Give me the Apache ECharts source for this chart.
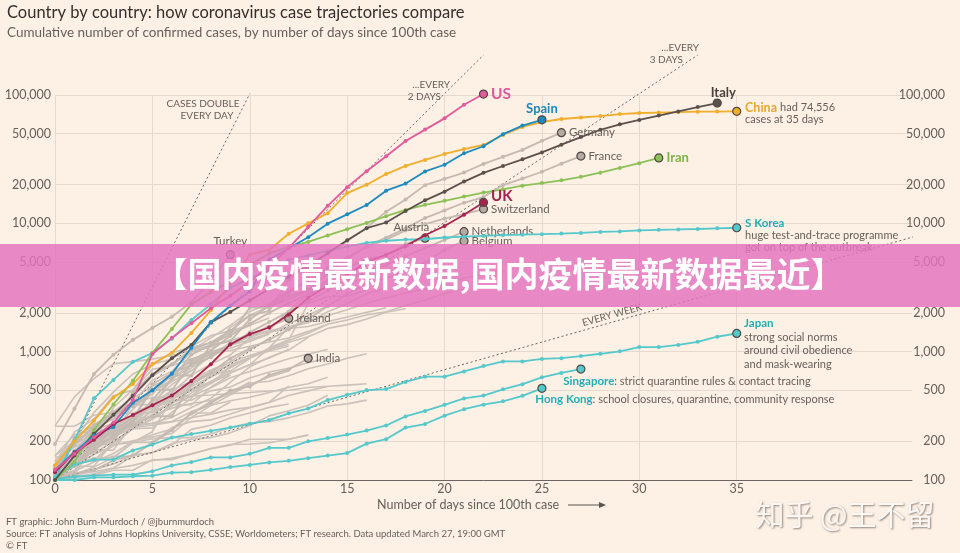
<!DOCTYPE html>
<html>
<head>
<meta charset="utf-8">
<title>Country by country: how coronavirus case trajectories compare</title>
<script src="https://cdn.jsdelivr.net/npm/echarts@6/dist/echarts.min.js"></script>
<style>
html, body { margin: 0; padding: 0; background: #fdf0e4; }
#viz { width: 960px; height: 553px; }
</style>
</head>
<body>
<div id="viz"></div>
<script>
var dayTicks = [0, 5, 10, 15, 20, 25, 30, 35];
var caseTicks = [100, 200, 500, 1000, 2000, 5000, 10000, 20000, 50000, 100000];

// cumulative cases, one value per day since the 100th case
var us = [120, 160, 215, 280, 420, 960, 1281, 1663, 2179, 2727, 3499, 4632, 6421, 9400, 13680, 19101, 25493, 33276, 43847, 53740, 65778, 83836, 101657];
var spain = [120, 165, 222, 259, 400, 500, 673, 1073, 1695, 2277, 2950, 5232, 6391, 7798, 9942, 11748, 13910, 17963, 20410, 25374, 28603, 35136, 39885, 49515, 57786, 64059];
var italy = [100, 155, 229, 322, 453, 655, 888, 1128, 1694, 2036, 2502, 3089, 3858, 4636, 5883, 7375, 9172, 10149, 12462, 15113, 17660, 21157, 24747, 27980, 31506, 35713, 41035, 47021, 53578, 59138, 63927, 69176, 74386, 80589, 86498];
var china = [130, 200, 290, 440, 560, 800, 980, 1400, 2100, 3400, 5700, 6200, 8300, 10000, 12000, 17200, 20000, 24200, 28000, 31200, 34700, 37900, 40800, 48800, 56400, 61600, 65000, 66800, 68500, 71000, 72400, 73000, 73600, 74100, 74300, 74556];
var iran = [100, 139, 245, 388, 593, 978, 1501, 2336, 2922, 3513, 4747, 5823, 6566, 7161, 8042, 9000, 10075, 11364, 12729, 13938, 14991, 16169, 17361, 18407, 19644, 20610, 21638, 23049, 24811, 27017, 29406, 32332];
var uk = [115, 163, 206, 273, 321, 382, 456, 590, 798, 1140, 1372, 1543, 1950, 2626, 3269, 3983, 5018, 5683, 6650, 8077, 9529, 11658, 14543];
var germany = [130, 159, 196, 262, 482, 670, 799, 1040, 1176, 1457, 1908, 2078, 3675, 4585, 5795, 7272, 9257, 12327, 15320, 19848, 22213, 24873, 29056, 32986, 37323, 43938, 50871];
var france = [100, 130, 191, 212, 285, 423, 613, 949, 1126, 1209, 1784, 2281, 2876, 3661, 4499, 5423, 6633, 7730, 9134, 10995, 12612, 14459, 16018, 19856, 22304, 25233, 29155, 33402];
var switzerland = [114, 214, 268, 337, 374, 491, 652, 652, 1139, 1359, 2200, 2200, 2700, 3028, 4075, 5294, 6575, 7474, 8795, 9877, 10897, 11811, 12928];
var austria = [104, 131, 182, 246, 302, 504, 655, 860, 1018, 1332, 1646, 2013, 2388, 2814, 3582, 4474, 5283, 5588, 6909, 7657];
var netherlands = [128, 188, 265, 321, 382, 503, 503, 804, 959, 1135, 1413, 1705, 2051, 2460, 2994, 3631, 4204, 4749, 5560, 6412, 7431, 8603];
var belgium = [109, 169, 200, 239, 267, 314, 314, 559, 689, 886, 1058, 1243, 1486, 1795, 2257, 2815, 3401, 3743, 4269, 4937, 6235, 7284];
var turkey = [191, 359, 670, 947, 1236, 1529, 1872, 2433, 3629, 5698];
var ireland = [110, 129, 169, 223, 292, 557, 683, 785, 906, 1125, 1329, 1564, 1819];
var india = [102, 113, 119, 142, 156, 194, 244, 330, 396, 499, 536, 657, 727, 887];
var sKorea = [104, 204, 433, 602, 833, 977, 1261, 1766, 2337, 3150, 3736, 4335, 5186, 5621, 6088, 6593, 7041, 7314, 7478, 7513, 7755, 7869, 7979, 8086, 8162, 8236, 8320, 8413, 8565, 8652, 8799, 8897, 8961, 9037, 9137, 9241];
var japan = [105, 132, 144, 144, 170, 189, 214, 228, 241, 256, 274, 293, 331, 360, 420, 461, 502, 511, 581, 639, 639, 701, 773, 839, 839, 878, 889, 924, 963, 1007, 1086, 1086, 1128, 1193, 1307, 1387];
var singapore = [102, 106, 108, 110, 110, 117, 130, 138, 150, 150, 160, 178, 178, 200, 212, 226, 243, 266, 313, 345, 385, 432, 455, 509, 558, 631, 683, 732];
var hongKong = [100, 100, 105, 105, 107, 108, 114, 115, 120, 126, 131, 137, 141, 148, 155, 162, 192, 208, 256, 273, 317, 356, 386, 410, 453, 518];

// the unlabelled grey pack
var portugal = [112, 169, 245, 331, 448, 642, 785, 1020, 1280, 1600, 2060, 2362, 2995, 3544, 4268];
var brazil = [151, 151, 162, 200, 321, 372, 621, 793, 1021, 1546, 1924, 2247, 2554, 2985, 3417];
var sweden = [137, 161, 203, 248, 355, 500, 599, 814, 961, 1022, 1103, 1190, 1279, 1439, 1639, 1763, 1934, 2046, 2286, 2526, 2840, 3069];
var norway = [113, 147, 176, 205, 400, 598, 702, 996, 1090, 1221, 1333, 1463, 1550, 1746, 1914, 2118, 2385, 2621, 2863, 3084, 3369, 3755, 4015, 4284];
var denmark = [264, 444, 617, 804, 836, 875, 933, 1025, 1116, 1225, 1337, 1420, 1514, 1572, 1718, 1862, 2023, 2200];
var canada = [108, 117, 193, 198, 252, 415, 478, 657, 800, 943, 1277, 1469, 2088, 2790, 3251, 4042, 4682];
var australia = [107, 128, 128, 200, 250, 297, 377, 452, 568, 681, 791, 1071, 1549, 1682, 2044, 2364, 2810, 3143];
var israel = [109, 131, 143, 193, 251, 255, 337, 433, 677, 705, 883, 1071, 1238, 2369, 2693, 2693, 3035];
var malaysia = [117, 129, 149, 149, 197, 238, 428, 566, 673, 790, 900, 1030, 1183, 1306, 1518, 1624, 1796, 2031, 2161];
var czechia = [141, 189, 253, 298, 396, 464, 694, 833, 995, 1120, 1236, 1394, 1654, 1925, 2279];
var luxembourg = [140, 203, 335, 484, 670, 798, 875, 1099, 1333, 1453, 1605, 1831];
var poland = [103, 119, 177, 238, 251, 355, 425, 536, 634, 749, 901, 1051, 1221, 1389, 1638];
var chile = [155, 201, 238, 342, 434, 537, 632, 746, 922, 1142, 1306, 1610];
var ecuador = [111, 168, 199, 367, 506, 789, 981, 1082, 1173, 1403, 1595];
var finland = [155, 225, 244, 277, 321, 336, 400, 450, 523, 626, 700, 792, 880, 958, 1041];
var greece = [117, 190, 228, 331, 331, 387, 418, 418, 495, 530, 624, 695, 743, 821, 892];
var iceland = [103, 117, 138, 161, 199, 225, 250, 330, 409, 473, 568, 588, 648, 737, 802, 890, 963];
var thailand = [114, 147, 177, 212, 272, 322, 411, 599, 721, 827, 934, 1045, 1136];
var indonesia = [117, 134, 172, 227, 309, 369, 450, 514, 579, 686, 790, 893, 1046];
var saudi = [103, 133, 171, 171, 274, 344, 392, 511, 562, 767, 900, 1012, 1104];
var qatar = [262, 262, 320, 337, 401, 439, 442, 452, 460, 470, 481, 494, 501, 526, 537, 549, 562];
var philippines = [111, 140, 142, 187, 202, 217, 230, 307, 380, 462, 552, 636, 707];
var pakistan = [136, 236, 299, 454, 501, 730, 776, 875, 972, 1063, 1201, 1373];
var romania = [123, 131, 158, 184, 260, 277, 308, 367, 433, 576, 762, 906, 1029, 1292];
var slovenia = [141, 181, 219, 253, 275, 275, 286, 341, 383, 414, 442, 480, 528, 562, 632];
var mexico = [118, 164, 203, 251, 316, 367, 405, 475, 585, 717];
var russia = [114, 147, 199, 253, 306, 367, 438, 495, 658, 840, 1036, 1264];
var bahrain = [109, 110, 189, 189, 195, 210, 214, 214, 228, 256, 278, 285, 305, 334, 377, 392, 419];
var egypt = [109, 110, 126, 150, 196, 196, 256, 285, 294, 327, 366, 402, 456, 495, 536];
var peru = [117, 145, 234, 234, 263, 318, 363, 395, 416, 480, 580];
var panama = [109, 137, 200, 245, 313, 345, 443, 558, 674, 786];
var argentina = [128, 158, 266, 301, 387, 387, 502, 589, 690];
var colombia = [102, 128, 196, 231, 306, 378, 470, 491];
var southAfrica = [116, 150, 202, 240, 274, 402, 554, 709, 927, 1170];
var estonia = [115, 171, 205, 225, 258, 267, 283, 306, 326, 352, 369, 404, 538];
var kuwait = [100, 104, 112, 123, 130, 142, 148, 159, 176, 189, 191, 195, 208, 225];
var lebanon = [110, 110, 120, 133, 157, 163, 187, 248, 267, 304, 333, 368, 391];
var croatia = [105, 128, 206, 254, 315, 382, 442, 495, 586, 657];
var serbia = [103, 135, 171, 222, 249, 303, 384, 384, 528, 659];
var iraq = [101, 110, 116, 124, 154, 164, 192, 208, 214, 233, 266, 316, 346, 382, 458];
var uae = [113, 140, 140, 153, 153, 198, 248, 333, 333, 405];
var dominican = [112, 202, 245, 312, 392, 488, 581, 719];
var sanMarino = [101, 109, 109, 119, 119, 144, 144, 160, 175, 187, 208, 208, 208, 223];

// doubling-time guides, [day, cases] end points
var everyDay = [[0, 100], [10, 102400]];
var every2Days = [[0, 100], [22, 204800]];
var every3Days = [[0, 100], [33, 204800]];
var everyWeek = [[0, 100], [45, 8600]];

var greyPack = [portugal, brazil, sweden, norway, denmark, canada, australia, israel, malaysia,
  czechia, luxembourg, poland, chile, ecuador, finland, greece, iceland, thailand, indonesia,
  saudi, qatar, philippines, pakistan, romania, slovenia, mexico, russia, bahrain, egypt, peru,
  panama, argentina, colombia, southAfrica, estonia, kuwait, lebanon, croatia, serbia, iraq,
  uae, dominican, sanMarino];

var FONT = 'Lato';
var GREY_TXT = '#66605c';
var TEAL = '#55c8cc';
var TEAL_TXT = '#22adb5';

function toXY(arr) {
  var out = [];
  for (var i = 0; i < arr.length; i++) out.push([i, arr[i]]);
  return out;
}

// one country line; the last point gets the ringed dot and the label
function country(arr, color, dot, label, z) {
  var d = toXY(arr);
  var last = d.pop();
  d.push({
    value: last,
    symbolSize: 8,
    itemStyle: { color: dot, borderColor: '#4f4945', borderWidth: 1.2 },
    label: label
  });
  return {
    type: 'line', data: d, symbol: 'circle', symbolSize: 4, showSymbol: true,
    lineStyle: { color: color, width: 1.8 }, itemStyle: { color: color },
    z: z, animation: false, silent: true, clip: false
  };
}

function guide(pts) {
  return {
    type: 'line', data: pts, symbol: 'none', z: 3, silent: true, animation: false, clip: false,
    lineStyle: { color: '#6d6661', width: 1, type: [2, 2.5] }
  };
}

function bold(txt, color, size, pos, extra) {
  var l = { show: true, position: pos, distance: 3, formatter: txt, fontFamily: FONT,
    fontWeight: 'bold', fontSize: size, color: color };
  for (var k in extra) l[k] = extra[k];
  return l;
}

function greyLab(txt, pos, extra) {
  var l = { show: true, position: pos, distance: 3, formatter: txt, fontFamily: FONT,
    fontSize: 11.5, color: GREY_TXT };
  for (var k in extra) l[k] = extra[k];
  return l;
}

function noteLab(txt, pos, nameColor, lh, nameSize) {
  return {
    show: true, position: pos, formatter: txt, align: 'left', verticalAlign: 'top',
    rich: {
      n: { fontFamily: FONT, fontWeight: 'bold', fontSize: nameSize || 11.5, color: nameColor, lineHeight: lh },
      t: { fontFamily: FONT, fontSize: 11, color: GREY_TXT, lineHeight: lh }
    }
  };
}

var series = [];
for (var i = 0; i < greyPack.length; i++) {
  series.push({
    type: 'line', data: toXY(greyPack[i]), symbol: 'none', z: 2, silent: true, animation: false,
    lineStyle: { color: '#cbc2bb', width: 1.6 }
  });
}
series.push(guide(everyDay), guide(every2Days), guide(every3Days), guide(everyWeek));

var GL = '#c4bab2', GD = '#b5aba3';
series.push(
  country(germany, GL, GD, greyLab('Germany', 'right'), 3),
  country(france, GL, GD, greyLab('France', 'right'), 3),
  country(switzerland, GL, GD, greyLab('Switzerland', 'right'), 3),
  country(austria, GL, GD, greyLab('Austria', [-27, -12]), 3),
  country(netherlands, GL, GD, greyLab('Netherlands', 'right'), 3),
  country(belgium, GL, GD, greyLab('Belgium', 'right'), 3),
  country(turkey, GL, GD, greyLab('Turkey', 'top'), 3),
  country(ireland, GL, GD, greyLab('Ireland', 'right'), 3),
  country(india, GL, GD, greyLab('India', 'right'), 3),
  country(singapore, TEAL, TEAL, noteLab('{n|Singapore}{t|: strict quarantine rules & contact tracing}', [-13, 11], TEAL_TXT, 12), 4),
  country(hongKong, TEAL, TEAL, noteLab('{n|Hong Kong}{t|: school closures, quarantine, community response}', [-2, 10], TEAL_TXT, 12), 4),
  country(japan, TEAL, TEAL, noteLab('{n|Japan}\n{t|strong social norms}\n{t|around civil obedience}\n{t|and mask-wearing}', [12, -12], TEAL_TXT, 13.5), 4),
  country(sKorea, TEAL, TEAL, noteLab('{n|S Korea}\n{t|huge test-and-trace programme}\n{t|got on top of the outbreak}', [13, -6], TEAL_TXT, 12), 4),
  country(iran, '#8cc157', '#8cc157', bold('Iran', '#7fb346', 13, 'right'), 4),
  country(china, '#f0ae2c', '#f0ae2c', noteLab('{n|China} {t|had 74,556}\n{t|cases at 35 days}', [13, -5], '#e2aa2e', 12, 12.5), 4),
  country(italy, '#5b514c', '#5b514c', bold('Italy', '#4a423e', 13, 'top', { offset: [6, 4] }), 5),
  country(spain, '#1d8bc1', '#1d8bc1', bold('Spain', '#1d87bb', 13, 'top', { offset: [0, 3] }), 5),
  country(uk, '#a8244f', '#a8244f', bold('UK', '#a3234e', 15, 'right', { offset: [0, -6] }), 6),
  country(us, '#e25c9c', '#e25c9c', bold('US', '#e0579b', 15.5, 'right'), 6)
);

function txt(x, y, s, size, color, align, extra) {
  var st = { text: s, x: 0, y: 0, font: size + 'px ' + FONT, fill: color,
    align: align || 'left', textAlign: align || 'left', verticalAlign: 'middle', textVerticalAlign: 'middle' };
  var el = { type: 'text', x: x, y: y, silent: true, style: st, z: 50 };
  for (var k in extra) el[k] = extra[k];
  return el;
}

var graphics = [
  txt(7, 13, 'Country by country: how coronavirus case trajectories compare', 16.5, '#33302e'),
  txt(7, 33, 'Cumulative number of confirmed cases, by number of days since 100th case', 13.5, GREY_TXT),
  txt(203, 104, 'CASES DOUBLE', 10, GREY_TXT, 'center'),
  txt(207, 116, 'EVERY DAY', 10, GREY_TXT, 'center'),
  txt(450, 85, '...EVERY', 10, GREY_TXT, 'right'),
  txt(441, 97, '2 DAYS', 10, GREY_TXT, 'right'),
  txt(699, 48, '...EVERY', 10, GREY_TXT, 'right'),
  txt(683, 60, '3 DAYS', 10, GREY_TXT, 'right'),
  txt(612, 315, 'EVERY WEEK', 10, GREY_TXT, 'center', { rotation: 0.27 }),
  txt(377, 505, 'Number of days since 100th case', 12.5, GREY_TXT),
  { type: 'line', silent: true, z: 50, shape: { x1: 568, y1: 505, x2: 600, y2: 505 },
    style: { stroke: '#5a5450', lineWidth: 1 } },
  { type: 'polygon', silent: true, z: 50, shape: { points: [[599, 502], [606, 505], [599, 508]] },
    style: { fill: '#5a5450' } },
  txt(6, 522, 'FT graphic: John Burn-Murdoch / @jburnmurdoch', 9.5, GREY_TXT),
  txt(6, 534, 'Source: FT analysis of Johns Hopkins University, CSSE; Worldometers; FT research. Data updated March 27, 19:00 GMT', 9.5, GREY_TXT),
  txt(6, 546, '\u00a9 FT', 9.5, GREY_TXT),
  { type: 'rect', silent: true, z: 100, shape: { x: 0, y: 244, width: 960, height: 63 },
    style: { fill: 'rgba(228,115,190,0.84)' } },
  { type: 'text', silent: true, z: 101, x: 499, y: 274,
    style: { text: '【国内疫情最新数据,国内疫情最新数据最近】', font: 'bold 34px "Noto Sans CJK SC"',
      fill: '#ffffff', align: 'center', textAlign: 'center', verticalAlign: 'middle', textVerticalAlign: 'middle' } },
  { type: 'text', silent: true, z: 101, x: 845, y: 515,
    style: { text: '知乎 @王不留', font: '29px "Noto Sans CJK SC"', fill: '#fbf7f3',
      align: 'center', textAlign: 'center', verticalAlign: 'middle', textVerticalAlign: 'middle',
      textShadowColor: 'rgba(70,60,55,0.6)', textShadowBlur: 2, textShadowOffsetX: 1, textShadowOffsetY: 1 } }
];

var axisTxt = { fontFamily: FONT, fontSize: 12.5, color: GREY_TXT };
function caseFmt(v) { return Number(v).toLocaleString('en-US'); }

var option = {
  backgroundColor: '#fdf0e4',
  textStyle: { fontFamily: FONT },
  animation: false,
  grid: { left: 55, right: 48, top: 95, bottom: 73, containLabel: false, outerBoundsMode: 'none' },
  xAxis: {
    type: 'value', min: 0, max: 44, interval: 5,
    axisLine: { show: true, lineStyle: { color: '#6b6460', width: 1 } },
    axisTick: { show: false, customValues: dayTicks },
    axisLabel: Object.assign({ customValues: dayTicks, margin: 2 }, axisTxt),
    splitLine: { show: true, lineStyle: { color: '#e6d9ce', width: 1 } }
  },
  yAxis: [{
    type: 'log', logBase: 10, min: 100, max: 100000, position: 'left',
    axisLine: { show: false }, axisTick: { show: false, customValues: caseTicks },
    axisLabel: Object.assign({ customValues: caseTicks, margin: 4, formatter: caseFmt }, axisTxt),
    splitLine: { show: true, lineStyle: { color: '#e6d9ce', width: 1 } }
  }, {
    type: 'log', logBase: 10, min: 100, max: 100000, position: 'right',
    axisLine: { show: false }, axisTick: { show: false, customValues: caseTicks },
    axisLabel: Object.assign({ customValues: caseTicks, margin: 33, align: 'right', formatter: caseFmt }, axisTxt),
    splitLine: { show: false }
  }],
  series: series,
  graphic: graphics
};

var myChart = echarts.init(document.getElementById('viz'));
myChart.setOption(option);
</script>
</body>
</html>
